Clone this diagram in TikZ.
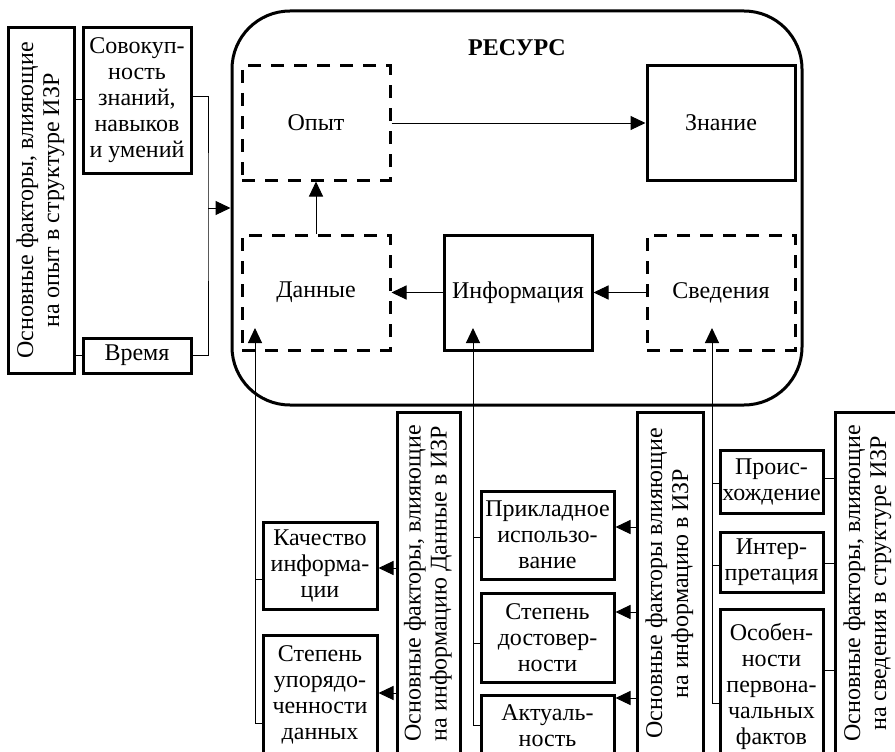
\documentclass[tikz,border=0pt]{standalone}
\usepackage{fontspec}
\setmainfont{Liberation Serif}
\usepackage{graphicx}
\usetikzlibrary{arrows.meta}

\begin{document}
\fontsize{24}{26}\selectfont
\begin{tikzpicture}[x=1pt, y=-1pt]
	\tikzstyle{box}=[draw, line width=3pt, inner sep=1pt, align=center]
	\tikzstyle{dbox}=[box, dash pattern=on 13pt off 10pt]
	\tikzstyle{factor}=[draw, line width=3pt, inner sep=0pt]
	\tikzstyle{link}=[line width=1pt]
	\tikzstyle{arr}=[link, -{Triangle[length=15pt, width=14pt]}]
	\clip (0,0) rectangle (895,752);

	% ресурс
	\node[draw, line width=3pt, rounded corners=58pt, minimum width=570pt, minimum height=394pt] (res) at (517,208) {};
	\node (title) at (517,48) {\bfseries РЕСУРС};
	\node[dbox, minimum width=148pt, minimum height=114pt] (exp) at (316,123) {Опыт};
	\node[box, minimum width=148pt, minimum height=114pt] (know) at (721,123) {Знание};
	\node[dbox, minimum width=148pt, minimum height=115pt] (data) at (316,292.5) {Данные};
	\node[box, minimum width=148pt, minimum height=115pt] (info) at (518,292.5) {Информация};
	\node[dbox, minimum width=148pt, minimum height=115pt] (svc) at (721,292.5) {Сведения};

	\draw[arr] (exp) -- (know);
	\draw[arr] (data) -- (exp);
	\draw[arr] (info.west) -- (data.east);
	\draw[arr] (svc.west) -- (info.east);

	% опыт
	\node[factor, minimum width=66pt, minimum height=345pt] (factExp) at (41,200.5) {\rotatebox{90}{\begin{tabular}{@{}c@{}}Основные факторы, влияющие\\на опыт в структуре ИЗР\end{tabular}}};
	\node[box, minimum width=108pt, minimum height=145pt] (skills) at (137,100.5) {Совокуп-\\ность\\знаний,\\навыков\\и умений};
	\node[box, minimum width=108pt, minimum height=35pt] (time) at (137,355.5) {Время};
	\coordinate (expJoin) at (208,208);

	\draw[link] (factExp.east |- 0,100) -- (skills.west |- 0,100);
	\draw[link] (factExp.east |- time) -- (time.west);
	\draw[link] (skills.east |- 0,97) -| (expJoin) |- (time.east);
	\draw[arr] (expJoin) -- (res.west);

	% данные
	\node[factor, minimum width=63pt, minimum height=343pt] (factData) at (428.5,583.5) {\rotatebox{90}{\begin{tabular}{@{}c@{}}Основные факторы, влияющие\\на информацию Данные в ИЗР\end{tabular}}};
	\node[box, minimum width=114pt, minimum height=87pt] (quality) at (320,565.5) {Качество\\информа-\\ции};
	\node[box, minimum width=114pt, minimum height=120pt] (order) at (320,695) {Степень\\упорядо-\\ченности\\данных};
	\coordinate (dataIn) at (255,328);
	\coordinate (dataA) at (255,579);
	\coordinate (dataB) at (255,723);

	\draw[arr] (dataB) -- (dataIn);
	\draw[link] (dataA) -- (dataA -| quality.west);
	\draw[link] (dataB) -- (dataB -| order.west);
	\draw[arr] (factData.west |- 0,568) -- (quality.east |- 0,568);
	\draw[arr] (factData.west |- 0,693) -- (order.east |- 0,693);

	% информация
	\node[factor, minimum width=66pt, minimum height=343pt] (factInfo) at (670,583.5) {\rotatebox{90}{\begin{tabular}{@{}c@{}}Основные факторы влияющие\\на информацию в ИЗР\end{tabular}}};
	\node[box, minimum width=133pt, minimum height=88pt] (applied) at (547.5,535) {Прикладное\\использо-\\вание};
	\node[box, minimum width=133pt, minimum height=89pt] (trust) at (547.5,637.5) {Степень\\достовер-\\ности};
	\node[box, minimum width=133pt, minimum height=62pt] (actual) at (547.5,726) {Актуаль-\\ность};
	\coordinate (infoIn) at (473,328);
	\coordinate (infoA) at (473,537);
	\coordinate (infoB) at (473,643);
	\coordinate (infoC) at (473,725);

	\draw[arr] (infoC) -- (infoIn);
	\draw[link] (infoA) -- (infoA -| applied.west);
	\draw[link] (infoB) -- (infoB -| trust.west);
	\draw[link] (infoC) -- (infoC -| actual.west);
	\draw[arr] (factInfo.west |- 0,527) -- (applied.east |- 0,527);
	\draw[arr] (factInfo.west |- 0,612) -- (trust.east |- 0,612);
	\draw[arr] (factInfo.west |- 0,698) -- (actual.east |- 0,698);

	% сведения
	\node[factor, minimum width=66pt, minimum height=343pt] (factSvc) at (868,583.5) {\rotatebox{90}{\begin{tabular}{@{}c@{}}Основные факторы, влияющие\\на сведения в структуре ИЗР\end{tabular}}};
	\node[box, minimum width=103pt, minimum height=63pt] (origin) at (771.5,481.5) {Проис-\\хождение};
	\node[box, minimum width=103pt, minimum height=60pt] (interp) at (771.5,562) {Интер-\\претация};
	\node[box, minimum width=103pt, minimum height=154pt] (features) at (771.5,686) {Особен-\\ности\\первона-\\чальных\\фактов};
	\coordinate (svcIn) at (712,328);
	\coordinate (svcA) at (712,483);
	\coordinate (svcB) at (712,565);
	\coordinate (svcC) at (712,703);

	\draw[arr] (svcC) -- (svcIn);
	\draw[link] (svcA) -- (svcA -| origin.west);
	\draw[link] (svcB) -- (svcB -| interp.west);
	\draw[link] (svcC) -- (svcC -| features.west);
	\draw[link] (factSvc.west |- 0,478) -- (origin.east |- 0,478);
	\draw[link] (factSvc.west |- 0,563) -- (interp.east |- 0,563);
	\draw[link] (factSvc.west |- 0,670) -- (features.east |- 0,670);
\end{tikzpicture}
\end{document}
